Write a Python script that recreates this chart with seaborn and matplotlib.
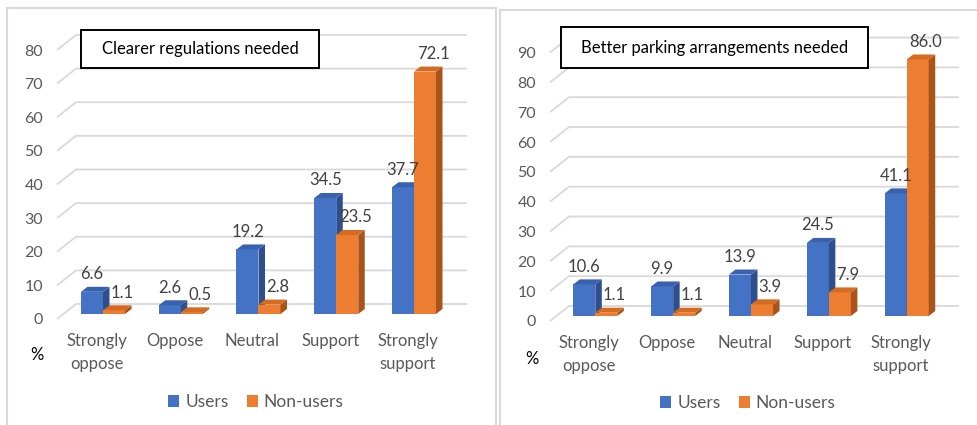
import numpy as np
import pandas as pd
import matplotlib
matplotlib.use("Agg")
import matplotlib.pyplot as plt
import seaborn as sns
from matplotlib.patches import Polygon, Rectangle, Patch

# ---------------- data ----------------
categories = ["Strongly\noppose", "Oppose", "Neutral", "Support", "Strongly\nsupport"]
series_names = ["Users", "Non-users"]
reg_users = [6.6, 2.6, 19.2, 34.5, 37.7]
reg_nonusers = [1.1, 0.5, 2.8, 23.5, 72.1]
park_users = [10.6, 9.9, 13.9, 24.5, 41.1]
park_nonusers = [1.1, 1.1, 3.9, 7.9, 86.0]
reg_ticks = [0, 10, 20, 30, 40, 50, 60, 70, 80]
park_ticks = [0, 10, 20, 30, 40, 50, 60, 70, 80, 90]
titles = ["Clearer regulations needed", "Better parking arrangements needed"]

# ---------------- style ----------------
W, H = 978, 425
sns.set_theme(style="white")
plt.rcParams['font.family'] = ['Lato', 'DejaVu Sans']

FRONT = {"Users": "#4472C4", "Non-users": "#ED7D31"}
TOP = {"Users": "#3862B0", "Non-users": "#D66A20"}
SIDE = {"Users": "#2E4E8E", "Non-users": "#A8541B"}
GRID = "#d9d9d9"
TXT = "#595959"

fig = plt.figure(figsize=(W / 100, H / 100), dpi=100)


def fx(x):
    return x / W


def fy(y):
    return 1 - y / H


def panel(users, nonusers, ticks, title, g):
    ax = fig.add_axes([fx(g["xf"]), fy(g["ybot"]), (g["xr"] - g["xf"]) / W,
                       (g["ybot"] - g["ytop"]) / H])
    df = pd.DataFrame({
        "category": categories * 2,
        "value": list(users) + list(nonusers),
        "group": [series_names[0]] * len(users) + [series_names[1]] * len(nonusers),
    })
    sns.barplot(data=df, x="category", y="value", hue="group", palette=FRONT,
                width=0.566, saturation=1, linewidth=0, legend=False, ax=ax)
    sp, sc = g["sp"], g["scale"]
    xlim = ((g["xf"] - g["c0"]) / sp, (g["xr"] - g["c0"]) / sp)
    ylim = ((g["base"] - g["ybot"]) / sc, (g["base"] - g["ytop"]) / sc)
    ax.set_xlim(*xlim)
    ax.set_ylim(*ylim)
    dx, dy = 6.5 / sp, 5 / sc
    fo, bo = 5 / sc, 10 / sc
    xb = xlim[0] + 19 / sp
    # 3D-like gridlines (floor diagonal + back wall)
    for v in ticks:
        ax.plot([xlim[0], xb, xlim[1]], [v - fo, v + bo, v + bo], color=GRID,
                lw=1.3, zorder=0.5, clip_on=False, solid_capstyle="butt")
    # 3D bar faces
    for k, cont in enumerate(ax.containers):
        name = series_names[k]
        for bar in cont:
            x0 = bar.get_x()
            x1 = x0 + bar.get_width()
            h = bar.get_height()
            bar.set_zorder(2 + 2 * k)
            top = Polygon([(x0, h), (x1, h), (x1 + dx, h + dy), (x0 + dx, h + dy)],
                          closed=True, facecolor=TOP[name], edgecolor="none",
                          zorder=2.5 + 2 * k)
            side = Polygon([(x1, 0), (x1 + dx, dy), (x1 + dx, h + dy), (x1, h)],
                           closed=True, facecolor=SIDE[name], edgecolor="none",
                           zorder=2.5 + 2 * k)
            ax.add_patch(side)
            ax.add_patch(top)
            off = 0 if k == 0 else 8
            ax.annotate(f"{h:.1f}", xy=((x0 + x1) / 2, h), xytext=(off * 0.72, 17.5 * 0.72),
                        textcoords="offset points", ha="center", va="center",
                        fontsize=12, color="#404040", zorder=10)
    # axes ticks
    ax.set_yticks([v - fo for v in ticks], labels=[str(v) for v in ticks])
    ax.set_xticks([i - 6 / sp for i in range(len(categories))], labels=categories)
    ax.tick_params(axis="y", length=0, pad=10, labelsize=11.5, labelcolor=TXT)
    ax.tick_params(axis="x", length=0, pad=3, labelsize=12, labelcolor=TXT)
    for t in ax.get_xticklabels():
        t.set_linespacing(1.5)
    ax.set_xlabel("")
    ax.set_ylabel("")
    for s in ax.spines.values():
        s.set_visible(False)
    ax.patch.set_alpha(0)
    # legend
    handles = [Patch(facecolor=FRONT[n], edgecolor="none") for n in series_names]
    ax.legend(handles, series_names, loc="center",
              bbox_to_anchor=(fx(g["legx"]), fy(g["legy"])), bbox_transform=fig.transFigure,
              ncol=2, frameon=False, fontsize=12.5, handlelength=0.62, handleheight=0.62,
              handletextpad=0.35, columnspacing=1.05, labelcolor=TXT)
    # title box
    bx0, by0, bx1, by1 = g["box"]
    fig.add_artist(Rectangle((fx(bx0), fy(by1)), (bx1 - bx0) / W, (by1 - by0) / H,
                             transform=fig.transFigure, facecolor="white",
                             edgecolor="black", lw=1.4, zorder=5))
    fig.text(fx((bx0 + bx1) / 2), fy((by0 + by1) / 2), title, ha="center", va="center",
             fontsize=12, color="black", zorder=6)
    # percent sign
    fig.text(fx(g["pct"][0]), fy(g["pct"][1]), "%", ha="center", va="center",
             fontsize=12, color="black")
    # panel frame
    fx0, fy0, fx1, fy1 = g["frame"]
    fig.add_artist(Rectangle((fx(fx0), fy(fy1)), (fx1 - fx0) / W, (fy1 - fy0) / H,
                             transform=fig.transFigure, fill=False, edgecolor=GRID,
                             lw=1.5, zorder=1))
    return ax


geo_left = dict(xf=57, xr=467, c0=103, sp=77.75, base=314, scale=3.3625, ytop=15,
                ybot=329, legx=256, legy=402, box=(81, 30, 319, 68), pct=(37, 355),
                frame=(7, 8, 496, 440))
geo_right = dict(xf=550, xr=959, c0=595.3, sp=77.85, base=316, scale=2.983, ytop=15,
                 ybot=331, legx=748, legy=403, box=(561, 27, 868, 68), pct=(532, 359),
                 frame=(500, 10, 990, 440))

panel(reg_users, reg_nonusers, reg_ticks, titles[0], geo_left)
panel(park_users, park_nonusers, park_ticks, titles[1], geo_right)

fig.savefig("out.png", dpi=100)
